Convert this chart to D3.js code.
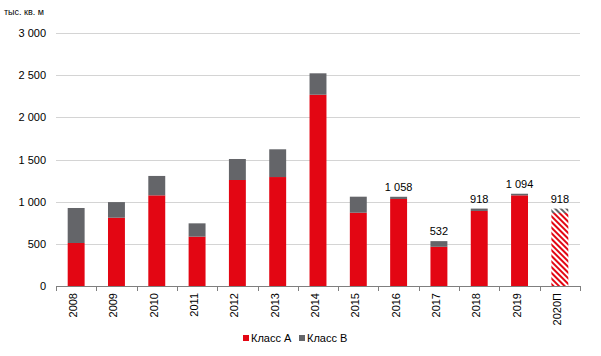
<!DOCTYPE html>
<html><head><meta charset="utf-8">
<script src="https://cdn.jsdelivr.net/npm/d3@7"></script>
<style>body{margin:0;background:#fff;font-family:"Liberation Sans",Arial,sans-serif}</style>
</head><body><svg id="c" width="601" height="356"></svg>
<script>
const categories = ["2008","2009","2010","2011","2012","2013","2014","2015","2016","2017","2018","2019","2020П"];
const classA = [510, 810, 1075, 585, 1257, 1292, 2268, 869, 1032, 465, 890, 1075, 865];
const classB = [415, 185, 230, 158, 249, 329, 254, 190, 26, 67, 28, 19, 53];
const totalLabels = [null,null,null,null,null,null,null,null,"1 058","532","918","1 094","918"];
const forecast = [false,false,false,false,false,false,false,false,false,false,false,false,true];
const yTicks = [0,500,1000,1500,2000,2500,3000];
const seriesNames = ["Класс А","Класс В"];
const colors = ["#e30613","#646569"];

const svg = d3.select("#c");
const x = d3.scaleBand().domain(categories).range([56,580]).paddingInner(0.58).paddingOuter(0.29);
const y = d3.scaleLinear().domain([0,3000]).range([286,33]);
const fmt = v => d3.format(",")(v).replace(/,/g," ");

const defs = svg.append("defs");
[["hA",colors[0]],["hB",colors[1]]].forEach(([id,c])=>{
  const p = defs.append("pattern").attr("id",id).attr("patternUnits","userSpaceOnUse")
    .attr("width",4).attr("height",4).attr("patternTransform","rotate(-45)");
  p.append("rect").attr("width",4).attr("height",4).attr("fill","#fff");
  p.append("rect").attr("width",2).attr("height",4).attr("fill",c);
});

// gridlines
svg.append("g").selectAll("line").data(yTicks.filter(d=>d>0)).join("line")
  .attr("x1",56).attr("x2",580).attr("y1",d=>Math.round(y(d))+0.5).attr("y2",d=>Math.round(y(d))+0.5)
  .attr("stroke","#d4d4d4").attr("stroke-width",1);

// y labels
svg.append("g").selectAll("text").data(yTicks).join("text")
  .attr("x",46).attr("y",d=>y(d)+4).attr("text-anchor","end")
  .attr("font-size",11).attr("fill","#000").text(fmt);

svg.append("text").attr("x",4).attr("y",15).attr("font-size",9).attr("fill","#000").text("тыс. кв. м");

// bars
const g = svg.append("g");
categories.forEach((c,i)=>{
  const xa = x(c), w = x.bandwidth();
  g.append("rect").attr("x",xa).attr("width",w)
    .attr("y",y(classA[i])).attr("height",y(0)-y(classA[i]))
    .attr("fill",forecast[i]?"url(#hA)":colors[0]);
  g.append("rect").attr("x",xa).attr("width",w)
    .attr("y",y(classA[i]+classB[i])).attr("height",y(classA[i])-y(classA[i]+classB[i]))
    .attr("fill",forecast[i]?"url(#hB)":colors[1]);
  if(totalLabels[i]){
    g.append("text").attr("x",xa+w/2).attr("y",y(classA[i]+classB[i])-6)
      .attr("text-anchor","middle").attr("font-size",11).attr("fill","#000").text(totalLabels[i]);
  }
});

// x axis
svg.append("line").attr("x1",56).attr("x2",580).attr("y1",286.5).attr("y2",286.5)
  .attr("stroke","#7f7f7f").attr("stroke-width",1);
svg.append("g").selectAll("line").data(d3.range(categories.length+1)).join("line")
  .attr("x1",i=>Math.round(56+i*x.step())+0.5)
  .attr("x2",i=>Math.round(56+i*x.step())+0.5)
  .attr("y1",286).attr("y2",291).attr("stroke","#7f7f7f");
svg.append("g").selectAll("text").data(categories).join("text")
  .attr("transform",d=>`translate(${x(d)+x.bandwidth()/2+1},293) rotate(-90)`)
  .attr("text-anchor","end").attr("font-size",11).attr("fill","#000").text(d=>d);

// legend
const lg = svg.append("g");
const items = [{n:seriesNames[0],c:colors[0],x:243},{n:seriesNames[1],c:colors[1],x:299}];
items.forEach(it=>{
  lg.append("rect").attr("x",it.x).attr("y",335).attr("width",6).attr("height",6).attr("fill",it.c);
  lg.append("text").attr("x",it.x+8).attr("y",342).attr("font-size",11).attr("fill","#000").text(it.n);
});
</script></body></html>
